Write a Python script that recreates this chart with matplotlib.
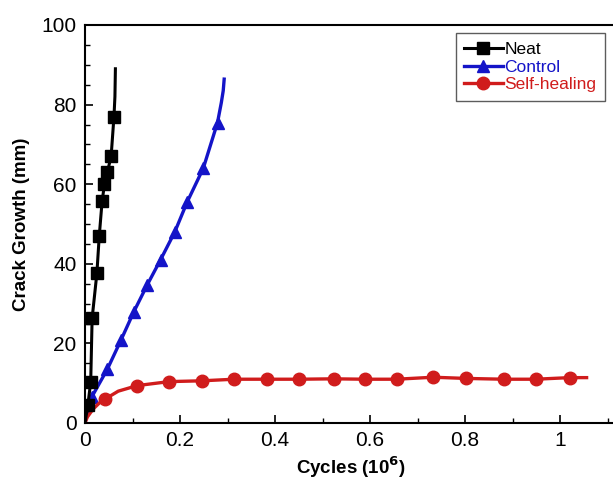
import matplotlib
matplotlib.use("Agg")
import matplotlib.pyplot as plt
from matplotlib.ticker import MultipleLocator

plt.rcParams['font.family'] = ['Liberation Sans', 'DejaVu Sans']

# Neat
neat_x = [0.0, 0.006, 0.012, 0.015, 0.025, 0.030, 0.036, 0.041, 0.047, 0.055, 0.061, 0.063, 0.064]
neat_y = [0.0, 4.5, 10.3, 26.3, 37.6, 47.0, 55.7, 60.0, 63.0, 67.0, 77.0, 82.0, 89.0]
neat_marks = [1, 2, 3, 4, 5, 6, 7, 8, 9, 10]

# Control
ctrl_x = [0.0, 0.014, 0.047, 0.076, 0.103, 0.131, 0.159, 0.189, 0.215, 0.249, 0.279, 0.287, 0.291, 0.293]
ctrl_y = [0.0, 6.5, 13.5, 20.9, 28.0, 34.7, 41.0, 48.0, 55.5, 64.0, 75.5, 80.5, 83.5, 86.4]
ctrl_marks = [1, 2, 3, 4, 5, 6, 7, 8, 9, 10]

# Self-healing
sh_x = [0.0, 0.005, 0.017, 0.030, 0.042, 0.070, 0.110, 0.177, 0.246, 0.314, 0.384, 0.451,
        0.524, 0.589, 0.656, 0.733, 0.802, 0.882, 0.949, 1.020, 1.056]
sh_y = [0.0, 1.5, 3.5, 5.0, 6.0, 8.0, 9.4, 10.4, 10.6, 11.0, 11.0, 11.0,
        11.1, 11.0, 11.0, 11.5, 11.2, 11.0, 11.0, 11.4, 11.4]
sh_marks = [4, 6, 7, 8, 9, 10, 11, 12, 13, 14, 15, 16, 17, 18, 19]

fig = plt.figure(figsize=(6.13, 4.87), dpi=100)
ax = fig.add_axes([85/613, 64/487, 532/613, 398/487])

ax.plot(neat_x, neat_y, color='black', lw=2.2, marker='s', ms=9,
        markevery=neat_marks, label='Neat', zorder=3)
ax.plot(ctrl_x, ctrl_y, color='#1414c8', lw=2.4, marker='^', ms=8.5,
        markevery=ctrl_marks, label='Control', zorder=2)
ax.plot(sh_x, sh_y, color='#d01c1c', lw=2.4, marker='o', ms=9,
        markevery=sh_marks, label='Self-healing', zorder=2)

ax.set_xlim(0, 1.12)
ax.set_ylim(0, 100)
ax.xaxis.set_major_locator(MultipleLocator(0.2))
ax.xaxis.set_minor_locator(MultipleLocator(0.1))
ax.yaxis.set_major_locator(MultipleLocator(20))
ax.yaxis.set_minor_locator(MultipleLocator(5))
ax.set_xticks([0, 0.2, 0.4, 0.6, 0.8, 1.0])
ax.set_xticklabels(['0', '0.2', '0.4', '0.6', '0.8', '1'])
ax.tick_params(which='major', direction='in', length=6, width=1.2, labelsize=15, pad=6)
ax.tick_params(which='minor', direction='in', length=3.5, width=1.0)
ax.tick_params(top=False, right=False, which='both')
for s in ax.spines.values():
    s.set_linewidth(1.5)

ax.set_xlabel('Cycles (10$^\\mathbf{6}$)', fontsize=13.5, fontweight='bold', labelpad=3)
ax.set_ylabel('Crack Growth (mm)', fontsize=13.5, fontweight='bold', labelpad=8)

leg = ax.legend(loc='upper right', bbox_to_anchor=(605/613, 1 - 33/487),
                bbox_transform=fig.transFigure, fontsize=12.5, frameon=True,
                fancybox=False, edgecolor='#333333', handlelength=2.2,
                handletextpad=0.1, borderpad=0.5, labelspacing=0.15,
                borderaxespad=0)
leg.get_frame().set_linewidth(1.0)
for t, c in zip(leg.get_texts(), ['black', '#1414c8', '#d01c1c']):
    t.set_color(c)

fig.savefig('out.png', dpi=100)
